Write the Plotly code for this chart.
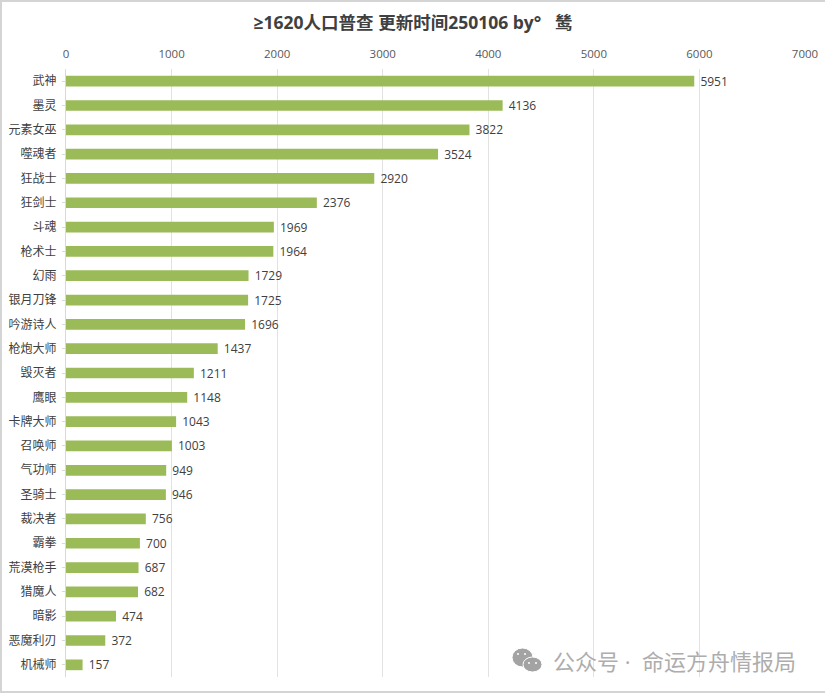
import plotly.graph_objects as go

classes = ['武神', '墨灵', '元素女巫', '噬魂者', '狂战士', '狂剑士', '斗魂', '枪术士', '幻雨',
           '银月刀锋', '吟游诗人', '枪炮大师', '毁灭者', '鹰眼', '卡牌大师', '召唤师', '气功师',
           '圣骑士', '裁决者', '霸拳', '荒漠枪手', '猎魔人', '暗影', '恶魔利刃', '机械师']
counts = [5951, 4136, 3822, 3524, 2920, 2376, 1969, 1964, 1729, 1725, 1696, 1437, 1211,
          1148, 1043, 1003, 949, 946, 756, 700, 687, 682, 474, 372, 157]
x_ticks = [0, 1000, 2000, 3000, 4000, 5000, 6000, 7000]

FONT = 'Open Sans, Noto Sans CJK SC, sans-serif'
W, H = 825, 693
L, R, T, B = 66, 20, 69, 16


# pixel position -> paper fraction (paper = plot area), for the frame and watermark only
def px(x):
    return (x - L) / (W - L - R)


def py(y):
    return 1 - (y - T) / (H - T - B)


fig = go.Figure(go.Bar(
    x=counts, y=classes, orientation='h',
    marker=dict(color='#9bbb59', line_width=0),
    text=counts, texttemplate='\u00a0%{text}', textposition='outside',
    cliponaxis=False, constraintext='none',
    textfont=dict(size=12, color='#404040', family='Open Sans, sans-serif'),
))

fig.update_layout(
    width=W, height=H,
    autosize=False,
    paper_bgcolor='white', plot_bgcolor='white',
    font=dict(family=FONT, color='#595959'),
    showlegend=False,
    bargap=0.56,
    margin=dict(l=L, r=R, t=T, b=B, autoexpand=False),
    title=dict(
        text='≥1620人口普查 更新时间250106 by°\u00a0\u00a0\u00a0鸶',
        x=413 / W, xanchor='center', y=1 - 23 / H, yanchor='middle',
        font=dict(size=17.5, color='#404040', family=FONT, weight='bold'),
    ),
    xaxis=dict(
        side='top', range=[0, 7000], tickvals=x_ticks,
        showgrid=True, gridcolor='#e2e2e2', gridwidth=1,
        zeroline=False, showline=False, ticks='',
        tickfont=dict(size=11.5, color='#595959', family='Open Sans, sans-serif'),
        ticklabelstandoff=8,
    ),
    yaxis=dict(
        autorange='reversed', showgrid=False, zeroline=False,
        showline=True, linecolor='#d9d9d9', linewidth=1,
        ticks='outside', ticklen=3, tickcolor='#d9d9d9',
        tickfont=dict(size=12, color='#404040', family=FONT),
        ticklabelstandoff=3,
    ),
)

# frame of the screenshot
frame = dict(type='line', xref='paper', yref='paper', line=dict(color='#d4d4d4', width=2))
fig.add_shape(x0=px(0), x1=px(W), y0=py(1), y1=py(1), **frame)
fig.add_shape(x0=px(0), x1=px(W), y0=py(692), y1=py(692), **frame)
fig.add_shape(x0=px(1), x1=px(1), y0=py(0), y1=py(H), **frame)

# watermark icon, two bubbles with eyes
for x0, y0, x1, y1 in [(512, 648, 533, 667), (523, 657, 542, 672)]:
    fig.add_shape(type='circle', xref='paper', yref='paper',
                  x0=px(x0), x1=px(x1), y0=py(y0), y1=py(y1),
                  fillcolor='#a3a3a3', line=dict(color='white', width=1))
for cx, cy in [(518, 654), (525, 654), (529, 663), (536, 663)]:
    fig.add_shape(type='circle', xref='paper', yref='paper',
                  x0=px(cx - 1), x1=px(cx + 1), y0=py(cy - 1), y1=py(cy + 1),
                  fillcolor='white', line_width=0)

fig.add_annotation(
    text='公众号\u00a0·\u00a0\u00a0命运方舟情报局', xref='paper', yref='paper',
    x=px(798), y=py(661), xanchor='right', yanchor='middle', showarrow=False,
    font=dict(size=22, color='#adadad', family=FONT),
)

# page default margin would push the chart 8px off
fig.write_html('out.html', config=dict(displayModeBar=False),
               post_script='document.body.style.margin = "0";')
